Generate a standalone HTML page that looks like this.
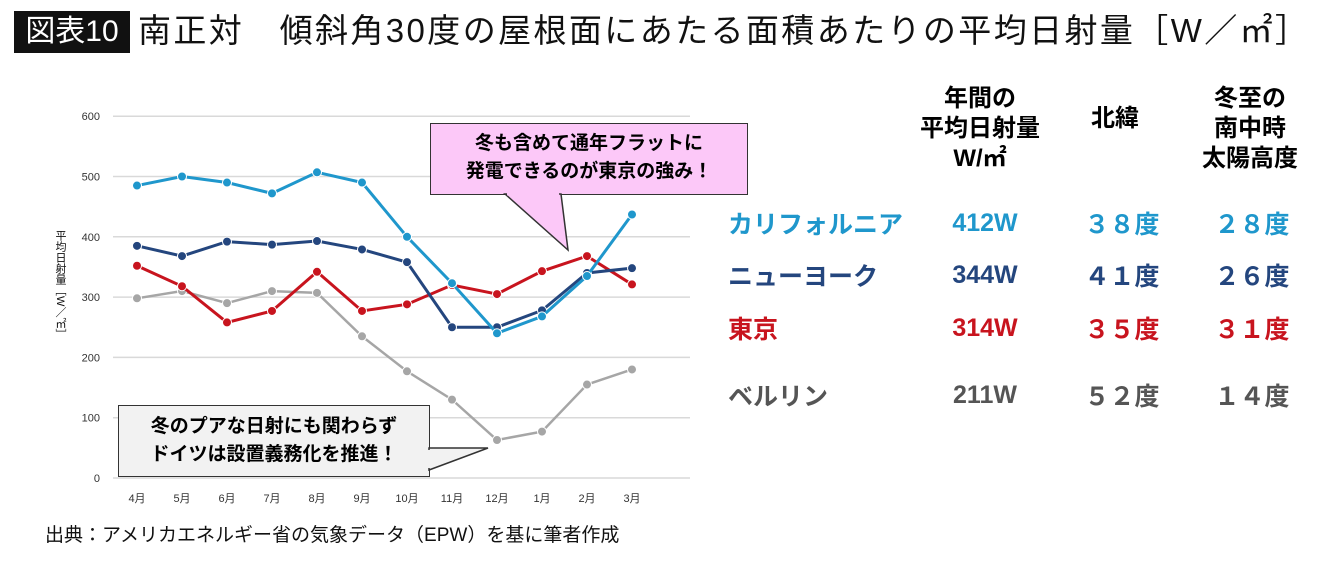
<!DOCTYPE html>
<html><head><meta charset="utf-8"><style>
body{margin:0;width:1340px;height:563px;background:#fff;font-family:"Liberation Sans","Noto Sans CJK JP",sans-serif;overflow:hidden;position:relative}
.abs{position:absolute}
.tbl{font-weight:bold;font-size:24px;text-align:center}
</style></head><body>
<div class="abs" style="left:14px;top:11px;width:116px;height:42px;background:#111;color:#fff;font-size:30px;line-height:42px;text-align:center">図表10</div>
<div class="abs" style="left:138px;top:10px;font-size:33px;letter-spacing:2.4px;line-height:42px;color:#111;white-space:nowrap">南正対　傾斜角30度の屋根面にあたる面積あたりの平均日射量［W／㎡］</div>

<svg class="abs" style="left:0;top:0" width="1340" height="563">
<g id="grid"></g><g id="series"></g>
</svg>

<div class="abs" style="left:52px;top:230px;font-size:11px;writing-mode:vertical-rl;color:#111">平均日射量［W／㎡］</div>

<div class="abs" style="left:430px;top:123px;width:318px;height:72px;background:#fcc8f8;border:1.5px solid #333;font-size:19px;font-weight:bold;text-align:center;line-height:28px;padding-top:6px;box-sizing:border-box">冬も含めて通年フラットに<br>発電できるのが東京の強み！</div>
<svg class="abs" style="left:0;top:0" width="1340" height="563"><polygon points="505,194 568,250 561,194" fill="#fcc8f8" stroke="#333" stroke-width="1.5"/><line x1="507" y1="194" x2="559" y2="194" stroke="#fcc8f8" stroke-width="3"/></svg>

<div class="abs" style="left:118px;top:405px;width:312px;height:72px;background:#f2f2f2;border:1.5px solid #333;font-size:19px;font-weight:bold;text-align:center;line-height:28px;padding-top:7px;box-sizing:border-box">冬のプアな日射にも関わらず<br>ドイツは設置義務化を推進！</div>
<svg class="abs" style="left:0;top:0" width="1340" height="563"><polygon points="429,448 488,448 429,470" fill="#f2f2f2" stroke="#333" stroke-width="1.5"/><line x1="429" y1="450" x2="429" y2="468" stroke="#f2f2f2" stroke-width="3"/></svg>

<div class="abs" style="left:45px;top:520px;font-size:19px;color:#111;white-space:nowrap">出典：アメリカエネルギー省の気象データ（EPW）を基に筆者作成</div>

<div class="abs tbl" style="left:900px;top:84px;width:160px;line-height:30px">年間の<br>平均日射量<br>W/㎡</div>
<div class="abs tbl" style="left:1080px;top:98px;width:70px">北緯</div>
<div class="abs tbl" style="left:1180px;top:84px;width:140px;line-height:30px">冬至の<br>南中時<br>太陽高度</div>

<div id="rows"></div>

<script>
const months=["4月","5月","6月","7月","8月","9月","10月","11月","12月","1月","2月","3月"];
const yTicks=[0,100,200,300,400,500,600];
const california=[485,500,490,472,507,490,400,323,240,268,335,437];
const newyork=[385,368,392,387,393,379,358,250,250,278,340,348];
const tokyo=[352,318,258,277,342,277,288,320,305,343,368,321];
const berlin=[298,310,290,310,307,235,177,130,63,77,155,180];
const seriesNames=["california","newyork","tokyo","berlin"];
const seriesColors=["#1f97cc","#24467e","#c8141e","#a6a6a6"];
const tableCity=["カリフォルニア","ニューヨーク","東京","ベルリン"];
const tableAnnual=["412W","344W","314W","211W"];
const tableLat=["３８度","４１度","３５度","５２度"];
const tableAlt=["２８度","２６度","３１度","１４度"];
const rowColors=["#1f97cc","#24467e","#c8141e","#555"];

const ns="http://www.w3.org/2000/svg";
const y=v=>478-v*0.603;
const x=i=>137+i*45;
const grid=document.getElementById('grid');
function mk(t,a,p){const e=document.createElementNS(ns,t);for(const k in a)e.setAttribute(k,a[k]);p.appendChild(e);return e;}
yTicks.forEach(v=>{
 const l=mk('line',{x1:113,x2:690,y1:y(v),y2:y(v),stroke:'#d9d9d9','stroke-width':1.5},grid);
 
 
 const t=mk('text',{x:100,y:y(v)+4,'text-anchor':'end','font-size':11,fill:'#333'},grid);
 t.textContent=v;
 
 
});
months.forEach((m,i)=>{
 const t=mk('text',{x:x(i),y:502,'text-anchor':'middle','font-size':11,fill:'#333'},grid);
 t.textContent=m;
 
 
});
const sg=document.getElementById('series');
[california,newyork,tokyo,berlin].reverse().forEach((d,ri)=>{
 const si=3-ri;
 const c=seriesColors[si];
 const p=mk('polyline',{points:d.map((v,i)=>x(i)+','+y(v)).join(' '),fill:'none',stroke:c,'stroke-width':si==3?2.5:3},sg);
 
 
 d.forEach((v,i)=>{
  const ci=mk('circle',{cx:x(i),cy:y(v),r:4.5,fill:c,stroke:'#fff','stroke-width':1},sg);
  
  
 });
});
const rows=document.getElementById('rows');
const rowTops=[205,257,310,377];
tableCity.forEach((c,i)=>{
 const cols=[[728,'left',tableCity[i],null,0],[905,'center',tableAnnual[i],160,4],[1077,'center',tableLat[i],90,0],[1192,'center',tableAlt[i],120,0]];
 cols.forEach((col,j)=>{
  const d=document.createElement('div');
  d.className='abs';
  d.style.cssText=`left:${col[0]}px;top:${rowTops[i]+col[4]}px;font-size:25px;font-weight:bold;color:${rowColors[i]};text-align:${col[1]};white-space:nowrap;`+(col[3]?`width:${col[3]}px;`:'');
  d.textContent=col[2];
  
  
  rows.appendChild(d);
 });
});
</script>
</body></html>
